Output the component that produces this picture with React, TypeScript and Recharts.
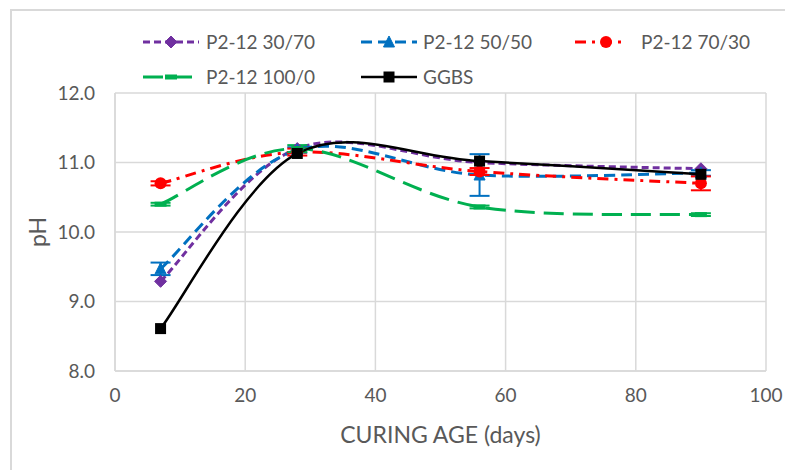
import React from "react";
import { LineChart, Line, XAxis, YAxis, CartesianGrid, ErrorBar, Legend, Label } from "recharts";

// curing age in days
const curingAge = [7, 28, 56, 90];

// pH values per mix
const p30_70 = [9.29, 11.2, 11.0, 10.91];
const p50_50 = [9.47, 11.18, 10.82, 10.85];
const p70_30 = [10.7, 11.15, 10.87, 10.7];
const p100_0 = [10.4, 11.2, 10.36, 10.25];
const ggbs = [8.61, 11.13, 11.02, 10.83];

// error bar half-ranges
const p50_50Err = [0.09, 0.04, 0.3, 0.04];
const p70_30Err = [0.03, 0.05, 0.05, 0.1];
const p100_0Err = [0.02, 0.05, 0.02, 0.02];

const xTicks = [0, 20, 40, 60, 80, 100];
const yTicks = [8, 9, 10, 11, 12];

const data = curingAge.map((age, i) => ({
  age,
  p30_70: p30_70[i],
  p50_50: p50_50[i],
  p70_30: p70_30[i],
  p100_0: p100_0[i],
  ggbs: ggbs[i],
  p50_50Err: p50_50Err[i],
  p70_30Err: p70_30Err[i],
  p100_0Err: p100_0Err[i],
}));

const FONT = "Lato, 'Open Sans', sans-serif";
const TEXT = "#595959";
const GRID = "#d9d9d9";

// Excel-style smoothed line (cardinal bezier through points)
function excelSmooth(context: any) {
  let pts: number[][] = [];
  return {
    areaStart() {},
    areaEnd() {},
    lineStart() {
      pts = [];
    },
    lineEnd() {
      const n = pts.length;
      if (!n) return;
      context.moveTo(pts[0][0], pts[0][1]);
      for (let i = 0; i < n - 1; i++) {
        const p0 = pts[Math.max(i - 1, 0)];
        const p1 = pts[i];
        const p2 = pts[i + 1];
        const p3 = pts[Math.min(i + 2, n - 1)];
        context.bezierCurveTo(
          p1[0] + (p2[0] - p0[0]) / 6,
          p1[1] + (p2[1] - p0[1]) / 6,
          p2[0] - (p3[0] - p1[0]) / 6,
          p2[1] - (p3[1] - p1[1]) / 6,
          p2[0],
          p2[1]
        );
      }
    },
    point(x: number, y: number) {
      pts.push([+x, +y]);
    },
  };
}

type MarkerKind = "diamond" | "triangle" | "circle" | "dash" | "square";

function Marker({ kind, cx, cy, color }: { kind: MarkerKind; cx: number; cy: number; color: string }) {
  if (kind === "diamond")
    return <polygon points={`${cx},${cy - 6} ${cx + 6},${cy} ${cx},${cy + 6} ${cx - 6},${cy}`} fill={color} stroke={color} strokeWidth={1} />;
  if (kind === "triangle")
    return <polygon points={`${cx},${cy - 6} ${cx + 5.5},${cy + 5} ${cx - 5.5},${cy + 5}`} fill={color} stroke={color} strokeWidth={1} />;
  if (kind === "circle") return <circle cx={cx} cy={cy} r={6} fill={color} />;
  if (kind === "dash") return <rect x={cx - 6} y={cy - 2.5} width={12} height={5} fill={color} />;
  return <rect x={cx - 5.5} y={cy - 5.5} width={11} height={11} fill={color} />;
}

const series = [
  { key: "p30_70", name: "P2-12 30/70", color: "#7030a0", dash: "7 4", marker: "diamond" as MarkerKind, width: 3 },
  { key: "p50_50", name: "P2-12 50/50", color: "#0070c0", dash: "11 6", marker: "triangle" as MarkerKind, width: 3 },
  { key: "p70_30", name: "P2-12 70/30", color: "#ff0000", dash: "11 6 3 6", marker: "circle" as MarkerKind, width: 3 },
  { key: "p100_0", name: "P2-12 100/0", color: "#00b050", dash: "20 9", marker: "dash" as MarkerKind, width: 3 },
  { key: "ggbs", name: "GGBS", color: "#000000", dash: undefined, marker: "square" as MarkerKind, width: 2.5 },
];

// legend slots: [line start x, row y, text x]
const legendSlots = [
  [143, 42, 206],
  [361, 42, 423],
  [575, 42, 641],
  [143, 77, 206],
  [361, 77, 423],
];

function ChartLegend() {
  return (
    <svg width={785} height={93} style={{ display: "block" }}>
      {series.map((s, i) => {
        const [lx, ly, tx] = legendSlots[i];
        const len = s.key === "p70_30" ? 47 : 56;
        return (
          <g key={s.key}>
            <line x1={lx} y1={ly} x2={lx + len} y2={ly} stroke={s.color} strokeWidth={s.width} strokeDasharray={s.dash} />
            <Marker kind={s.marker} cx={s.key === "p70_30" ? lx + 31 : lx + 28} cy={ly} color={s.color} />
            <text x={tx} y={ly} dy="0.35em" fontSize={19} fill={TEXT} fontFamily={FONT}>
              {s.name}
            </text>
          </g>
        );
      })}
    </svg>
  );
}

const errKeys: Record<string, string> = { p50_50: "p50_50Err", p70_30: "p70_30Err", p100_0: "p100_0Err" };

export default function App() {
  return (
    <div style={{ position: "absolute", left: 0, top: 0, width: 785, height: 470, background: "#fff", overflow: "hidden" }}>
      <div style={{ position: "absolute", left: 10, top: 9, width: 820, height: 500, border: `2px solid ${GRID}` }} />
      <div style={{ position: "absolute", left: 0, top: 0 }}>
        <LineChart width={785} height={470} data={data} margin={{ top: 93, right: 19, bottom: 0, left: 60 }}>
          <CartesianGrid stroke={GRID} strokeWidth={1.5} horizontalValues={yTicks} verticalValues={xTicks} />
          <XAxis
            dataKey="age"
            type="number"
            domain={[0, 100]}
            ticks={xTicks}
            height={99}
            tickLine={false}
            tickMargin={12}
            axisLine={{ stroke: GRID, strokeWidth: 1.5 }}
            tick={{ fontSize: 19, fill: TEXT, fontFamily: FONT }}
          >
            <Label value="CURING AGE (days)" position="insideBottom" offset={27} fontSize={23} fill={TEXT} fontFamily={FONT} />
          </XAxis>
          <YAxis
            type="number"
            domain={[8, 12]}
            ticks={yTicks}
            width={55}
            tickLine={false}
            tickMargin={14}
            axisLine={{ stroke: GRID, strokeWidth: 1.5 }}
            tickFormatter={(v: number) => v.toFixed(1)}
            tick={{ fontSize: 19, fill: TEXT, fontFamily: FONT }}
          >
            <Label
              content={() => (
                <text x={37} y={232} transform="rotate(-90 37 232)" textAnchor="middle" dominantBaseline="central" fontSize={23} fill={TEXT} fontFamily={FONT}>
                  pH
                </text>
              )}
            />
          </YAxis>
          <Legend
            layout="horizontal"
            verticalAlign="middle"
            align="center"
            wrapperStyle={{ top: 0, left: 0, width: 785, height: 93 }}
            content={() => <ChartLegend />}
          />
          {series.map((s) => (
            <Line
              key={s.key}
              dataKey={s.key}
              name={s.name}
              type={excelSmooth as any}
              stroke={s.color}
              strokeWidth={s.width}
              strokeDasharray={s.dash}
              isAnimationActive={false}
              dot={(p: any) => <Marker key={`${s.key}-${p.index}`} kind={s.marker} cx={p.cx} cy={p.cy} color={s.color} />}
              activeDot={false}
            >
              {errKeys[s.key] ? (
                <ErrorBar dataKey={errKeys[s.key]} direction="y" width={10} strokeWidth={2} stroke={s.color} isAnimationActive={false} />
              ) : null}
            </Line>
          ))}
        </LineChart>
      </div>
    </div>
  );
}
